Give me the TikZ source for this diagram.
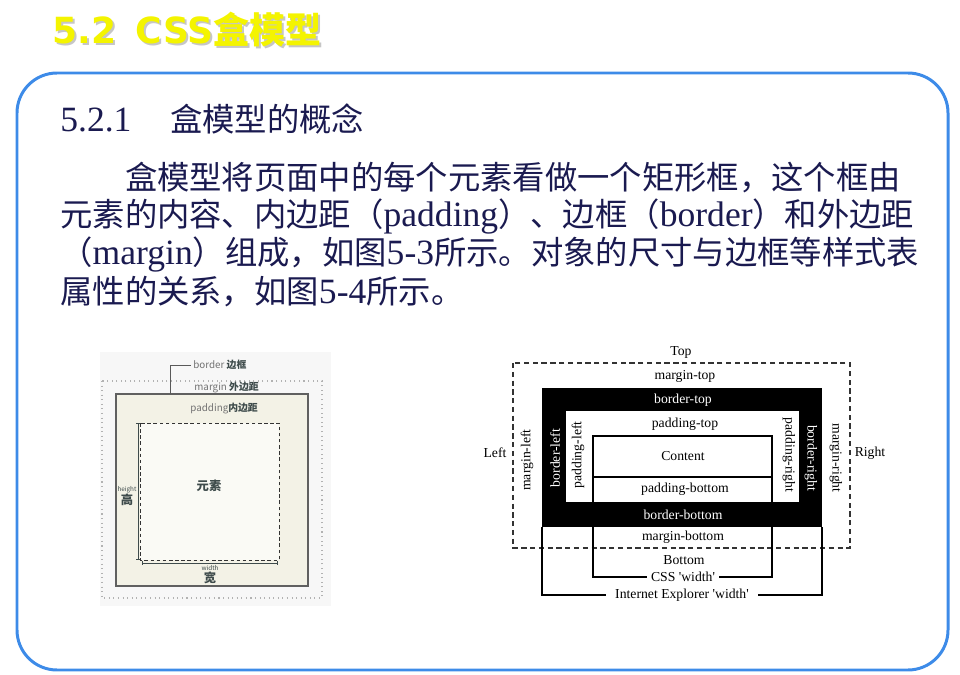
\documentclass[tikz,border=0pt]{standalone}
\usepackage{fontspec}
\setmainfont{Liberation Serif}
\newfontfamily\cjk{Noto Sans CJK SC}
\newfontfamily\verd{DejaVu Sans}
\newfontfamily\songlat{Liberation Serif}[Scale=1.1]
\usepackage{tikz}
\usetikzlibrary{arrows.meta, positioning}
\definecolor{frameblue}{HTML}{3D8BE8}
\definecolor{navy}{HTML}{1A1A50}
\definecolor{slate}{HTML}{3E4B4B}
\definecolor{cream}{HTML}{F3F2E6}
\definecolor{paper}{HTML}{FAFAF5}
\definecolor{titleyellow}{HTML}{F4F400}
\newcommand{\lat}[1]{{\songlat #1}}
\newcommand{\sq}{\textquotesingle}

\begin{document}
\begin{tikzpicture}[x=0.02cm, y=-0.02cm,
    bodyline/.style={font=\cjk\fontsize{18.4}{22}\selectfont, text=navy, anchor=base west, inner sep=0pt},
    lbl/.style={font=\fontsize{7.8}{9}\selectfont, inner sep=1pt},
    wlbl/.style={lbl, text=white},
    tag/.style={font=\cjk\fontsize{5.6}{7}\selectfont, text=slate, anchor=west, inner sep=0pt},
    tiny/.style={font=\cjk\fontsize{3.6}{4}\selectfont, text=slate, inner sep=0pt},
    dim/.style={draw=slate, line width=0.5pt, {Bar[width=2pt]}-{Bar[width=2pt]}},
    bracket/.style={draw=black, line width=0.6pt}
]
    \useasboundingbox (0,0) rectangle (960,675);

    % Titel mit Schatten
    \node[anchor=base west, inner sep=0pt, text=gray!45, font=\fontsize{20.5}{24}\selectfont] (titleshadow) at (54,46) {{\verd\bfseries 5.2\hspace{0.55em}CSS}{\cjk\bfseries 盒模型}};
    \node[anchor=base west, inner sep=0pt, text=titleyellow, font=\fontsize{20.5}{24}\selectfont] (title) at (52,44) {{\verd\bfseries 5.2\hspace{0.55em}CSS}{\cjk\bfseries 盒模型}};

    % Rahmen
    \draw[frameblue, line width=1.7pt, rounded corners=0.8cm] (17,73) rectangle (948,670);

    % Text
    \node[bodyline] (heading) at (60,132) {\lat{5.2.1}\hspace{1.2em}盒模型的概念};
    \node[bodyline] (line1) at (60,190) {\hspace*{2em}盒模型将页面中的每个元素看做一个矩形框，这个框由};
    \node[bodyline] (line2) at (60,227) {元素的内容、内边距（\lat{padding}）、边框（\lat{border}）和外边距};
    \node[bodyline] (line3) at (60,265) {（\lat{margin}）组成，如图\lat{5-3}所示。对象的尺寸与边框等样式表};
    \node[bodyline] (line4) at (60,304) {属性的关系，如图\lat{5-4}所示。};

    % Bild links: Box-Modell
    \fill[black!3] (100,352) rectangle (331,606);
    \draw[gray!60, dotted, line width=0.6pt] (102,381) rectangle (322,598);
    \draw[fill=cream, draw=gray!75!black, line width=0.7pt] (116,394) rectangle (308,586);
    \draw[fill=paper, draw=black!80, line width=0.5pt, dash pattern=on 2pt off 1.5pt] (140,423) rectangle (279,560);

    \node[tag] (bordertag) at (193,365) {{\color{gray!90!black}border} {\bfseries 边框}};
    \node[tag] (margintag) at (194,388) {{\color{gray!90!black}margin} {\bfseries 外边距}};
    \node[tag] (paddingtag) at (190,409) {{\color{gray!90!black}padding}{\bfseries 内边距}};
    \coordinate (bordercorner) at (170,394);
    \draw[gray!70!black, line width=0.4pt] (bordercorner) |- ([xshift=-1pt]bordertag.west);

    \node[font=\cjk\bfseries\fontsize{7}{8}\selectfont, text=slate] (element) at (209,486) {元素};

    \draw[dim] (138,423) -- (138,560);
    \node[tiny] (heighttag) at (127,490) {height};
    \node[font=\cjk\bfseries\fontsize{7}{8}\selectfont, text=slate, inner sep=0pt] (gao) at (127,500) {高};
    \draw[dim] (142,563) -- (278,563);
    \node[tiny] (widthtag) at (210,568) {width};
    \node[font=\cjk\bfseries\fontsize{7}{8}\selectfont, text=slate, inner sep=0pt] (kuan) at (210,578) {宽};

    % Bild rechts: Top/Right/Bottom/Left
    \draw[line width=0.6pt, dash pattern=on 3pt off 2pt, draw=black!80] (513,363) rectangle (850,548);
    \fill[black] (542,388) rectangle (822,527);
    \fill[white] (566,411) rectangle (799,502);
    \draw[line width=0.6pt] (593,436) rectangle (772,477);
    \draw[line width=0.6pt] (593,477) -- (593,502);
    \draw[line width=0.6pt] (772,477) -- (772,502);

    \node[lbl] (top) at (681,352) {Top};
    \node[lbl] (margintop) at (685,376) {margin-top};
    \node[wlbl] (bordertop) at (683,400) {border-top};
    \node[lbl] (paddingtop) at (685,424) {padding-top};
    \node[lbl] (content) at (683,456) {Content};
    \node[lbl] (paddingbottom) at (685,489) {padding-bottom};
    \node[wlbl] (borderbottom) at (683,515) {border-bottom};
    \node[lbl] (marginbottom) at (683,537) {margin-bottom};
    \node[lbl] (bottom) at (684,560) {Bottom};

    \node[lbl] (left) at (495,453) {Left};
    \node[lbl, rotate=90] (marginleft) at (527,460) {margin-left};
    \node[wlbl, rotate=90] (borderleft) at (555,458) {border-left};
    \node[lbl, rotate=90] (paddingleft) at (578,455) {padding-left};
    \node[lbl, rotate=-90] (paddingright) at (789,455) {padding-right};
    \node[wlbl, rotate=-90] (borderright) at (811,458) {border-right};
    \node[lbl, rotate=-90] (marginright) at (836,458) {margin-right};
    \node[lbl] (right) at (870,453) {Right};

    % Breitenangaben
    \node[lbl, inner xsep=2pt] (csswidth) at (683,577) {CSS \sq width\sq};
    \node[lbl, inner xsep=5pt] (iewidth) at (682,595) {Internet Explorer \sq width\sq};
    \coordinate (cssleft) at (593,527);
    \coordinate (cssright) at (772,527);
    \coordinate (ieleft) at (542,527);
    \coordinate (ieright) at (822,527);
    \draw[bracket] (cssleft) |- (csswidth.west);
    \draw[bracket] (cssright) |- (csswidth.east);
    \draw[bracket] (ieleft) |- (iewidth.west);
    \draw[bracket] (ieright) |- (iewidth.east);
\end{tikzpicture}
\end{document}
